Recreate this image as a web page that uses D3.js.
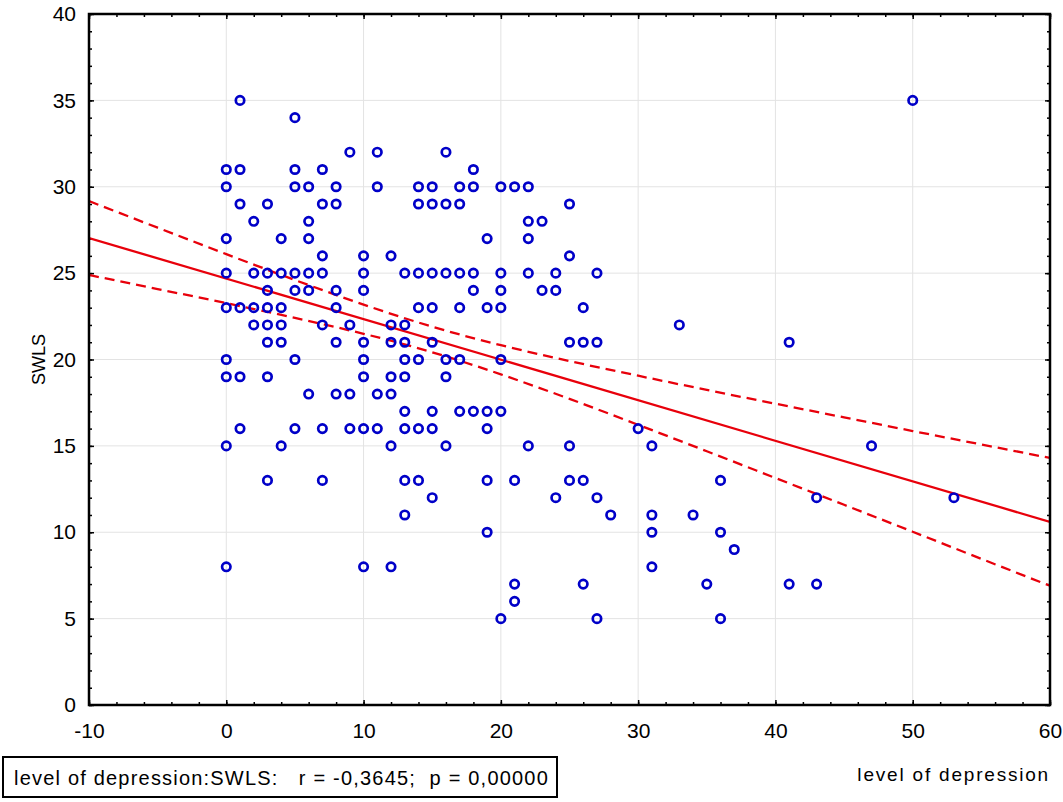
<!DOCTYPE html>
<html>
<head>
<meta charset="utf-8">
<script src="https://cdn.jsdelivr.net/npm/d3@7"></script>
<style>
  body { margin: 0; background: #fff; }
  text { font-family: "Liberation Sans", Arial, sans-serif; fill: #000; }
</style>
</head>
<body>
<div id="chart"></div>
<script>
// level of depression (x) and SWLS (y) for every visible point
const depression = [
  0,0,0,0,0,0,0,0,0,
  1,1,1,1,1,1,
  2,2,2,2,
  3,3,3,3,3,3,3,3,
  4,4,4,4,4,4,
  5,5,5,5,5,5,5,
  6,6,6,6,6,6,
  7,7,7,7,7,7,7,
  8,8,8,8,8,8,
  9,9,9,9,
  10,10,10,10,10,10,10,10,
  11,11,11,11,
  12,12,12,12,12,12,12,
  13,13,13,13,13,13,13,13,13,
  14,14,14,14,14,14,14,
  15,15,15,15,15,15,15,15,
  16,16,16,16,16,16,
  17,17,17,17,17,17,
  18,18,18,18,18,
  19,19,19,19,19,19,
  20,20,20,20,20,20,20,
  21,21,21,21,
  22,22,22,22,22,
  23,23,
  24,24,24,
  25,25,25,25,25,
  26,26,26,26,
  27,27,27,27,
  28,
  30,
  31,31,31,31,
  33,
  34,
  35,
  36,36,36,
  37,
  41,41,
  43,43,
  47,
  50,
  53
];
const swls = [
  31,30,27,25,23,20,19,15,8,
  35,31,29,23,19,16,
  28,25,23,22,
  29,25,24,23,22,21,19,13,
  27,25,23,22,21,15,
  34,31,30,25,24,20,16,
  30,28,27,25,24,18,
  31,29,26,25,22,16,13,
  30,29,24,23,21,18,
  32,22,18,16,
  26,25,24,21,20,19,16,8,
  32,30,18,16,
  26,22,21,19,18,15,8,
  25,22,21,20,19,17,16,13,11,
  30,29,25,23,20,16,13,
  30,29,25,23,21,17,16,12,
  32,29,25,20,19,15,
  30,29,25,23,20,17,
  31,30,25,24,17,
  27,23,17,16,13,10,
  30,25,24,23,20,17,5,
  30,13,7,6,
  30,28,27,25,15,
  28,24,
  25,24,12,
  29,26,21,15,13,
  23,21,13,7,
  25,21,12,5,
  11,
  16,
  15,11,10,8,
  22,
  11,
  7,
  13,10,5,
  9,
  21,7,
  12,7,
  15,
  35,
  12
];

// fitted line and 95% band
const fitX = [-10, 60];
const fitY = [27.03, 10.60];
const bandX = [-10, -5, 0, 5, 10, 15, 20, 25, 30, 35, 40, 45, 50, 55, 60];
const bandUpper = [29.17, 27.63, 26.10, 24.60, 23.18, 21.90, 20.83, 19.91, 19.06, 18.24, 17.44, 16.65, 15.86, 15.08, 14.30];
const bandLower = [24.89, 24.08, 23.26, 22.41, 21.49, 20.42, 19.14, 17.72, 16.22, 14.69, 13.14, 11.59, 10.03, 8.46, 6.90];

const xTicks = [-10, 0, 10, 20, 30, 40, 50, 60];
const yTicks = [0, 5, 10, 15, 20, 25, 30, 35, 40];
const xMinor = d3.range(-10, 61, 2);
const yMinor = d3.range(0, 41, 1);

const xTitle = "level of depression";
const yTitle = "SWLS";
const statText = "level of depression:SWLS:   r = -0,3645;  p = 0,00000";

const width = 1063, height = 802;
const mLeft = 89, mRight = 1050, mTop = 14, mBottom = 705;

const svg = d3.select("#chart").append("svg")
  .attr("width", width)
  .attr("height", height)
  .style("display", "block");

const x = d3.scaleLinear().domain([-10, 60]).range([mLeft, mRight]);
const y = d3.scaleLinear().domain([0, 40]).range([mBottom, mTop]);

svg.append("defs").append("clipPath").attr("id", "plotClip")
  .append("rect")
  .attr("x", mLeft).attr("y", mTop)
  .attr("width", mRight - mLeft).attr("height", mBottom - mTop);

// grid
const grid = svg.append("g").attr("stroke", "#e3e3e3").attr("stroke-width", 1);
grid.selectAll(".gx").data(xTicks.slice(1, -1)).enter().append("line")
  .attr("x1", d => x(d)).attr("x2", d => x(d))
  .attr("y1", mTop).attr("y2", mBottom);
grid.selectAll(".gy").data(yTicks.slice(1, -1)).enter().append("line")
  .attr("x1", mLeft).attr("x2", mRight)
  .attr("y1", d => y(d)).attr("y2", d => y(d));

// minor ticks on all four sides
function minorAxis(axis, pos) {
  const g = svg.append("g").attr("transform", pos).call(axis.tickSizeInner(-3).tickSizeOuter(0).tickFormat(""));
  g.select(".domain").remove();
  g.selectAll("line").attr("stroke-width", 1.5);
}
minorAxis(d3.axisBottom(x).tickValues(xMinor), `translate(0,${mBottom})`);
minorAxis(d3.axisTop(x).tickValues(xMinor), `translate(0,${mTop})`);
minorAxis(d3.axisLeft(y).tickValues(yMinor), `translate(${mLeft},0)`);
minorAxis(d3.axisRight(y).tickValues(yMinor), `translate(${mRight},0)`);

// major axes (plain hyphen for negatives, like the original)
const plain = d => String(d);
const xAxis = svg.append("g").attr("transform", `translate(0,${mBottom})`)
  .call(d3.axisBottom(x).tickValues(xTicks).tickFormat(plain).tickSizeInner(-5).tickSizeOuter(0).tickPadding(18));
const yAxis = svg.append("g").attr("transform", `translate(${mLeft},0)`)
  .call(d3.axisLeft(y).tickValues(yTicks).tickFormat(plain).tickSizeInner(-5).tickSizeOuter(0).tickPadding(13));
[xAxis, yAxis].forEach(g => {
  g.select(".domain").remove();
  g.selectAll("line").attr("stroke-width", 1.5);
  g.selectAll("text").attr("font-size", 21).attr("font-family", "Liberation Sans, Arial, sans-serif");
});
const topAxis = svg.append("g").attr("transform", `translate(0,${mTop})`)
  .call(d3.axisTop(x).tickValues(xTicks).tickSizeInner(-5).tickSizeOuter(0).tickFormat(""));
const rightAxis = svg.append("g").attr("transform", `translate(${mRight},0)`)
  .call(d3.axisRight(y).tickValues(yTicks).tickSizeInner(-5).tickSizeOuter(0).tickFormat(""));
[topAxis, rightAxis].forEach(g => {
  g.select(".domain").remove();
  g.selectAll("line").attr("stroke-width", 1.5);
});

// regression line and confidence band
const plot = svg.append("g").attr("clip-path", "url(#plotClip)");
const line = d3.line().x(d => x(d[0])).y(d => y(d[1])).curve(d3.curveNatural);

plot.append("path")
  .datum(fitX.map((v, i) => [v, fitY[i]]))
  .attr("d", d3.line().x(d => x(d[0])).y(d => y(d[1])))
  .attr("fill", "none").attr("stroke", "#e8000b").attr("stroke-width", 2.3);

[bandUpper, bandLower].forEach(band => {
  plot.append("path")
    .datum(bandX.map((v, i) => [v, band[i]]))
    .attr("d", line)
    .attr("fill", "none").attr("stroke", "#e8000b").attr("stroke-width", 2.3)
    .attr("stroke-dasharray", "10,6");
});

// points
plot.selectAll("circle")
  .data(depression.map((d, i) => [d, swls[i]]))
  .enter().append("circle")
  .attr("cx", d => x(d[0]))
  .attr("cy", d => y(d[1]))
  .attr("r", 4.2)
  .attr("fill", "none")
  .attr("stroke", "#0000c8")
  .attr("stroke-width", 2.7);

// frame
svg.append("rect")
  .attr("x", mLeft).attr("y", mTop)
  .attr("width", mRight - mLeft).attr("height", mBottom - mTop)
  .attr("fill", "none").attr("stroke", "#000").attr("stroke-width", 2.5);

// titles
svg.append("text")
  .attr("transform", `translate(45,${(mTop + mBottom) / 2}) rotate(-90)`)
  .attr("text-anchor", "middle")
  .attr("font-size", 18)
  .text(yTitle);

svg.append("text")
  .attr("x", mRight).attr("y", 781)
  .attr("text-anchor", "end")
  .attr("font-size", 19)
  .attr("letter-spacing", 1.8)
  .text(xTitle);

// stats box
svg.append("rect")
  .attr("x", 3).attr("y", 757).attr("width", 554).attr("height", 40)
  .attr("fill", "#fff").attr("stroke", "#000").attr("stroke-width", 2);
svg.append("text")
  .attr("x", 14).attr("y", 785)
  .attr("font-size", 20)
  .attr("letter-spacing", 1.2)
  .style("white-space", "pre")
  .attr("xml:space", "preserve")
  .text(statText);
</script>
</body>
</html>
